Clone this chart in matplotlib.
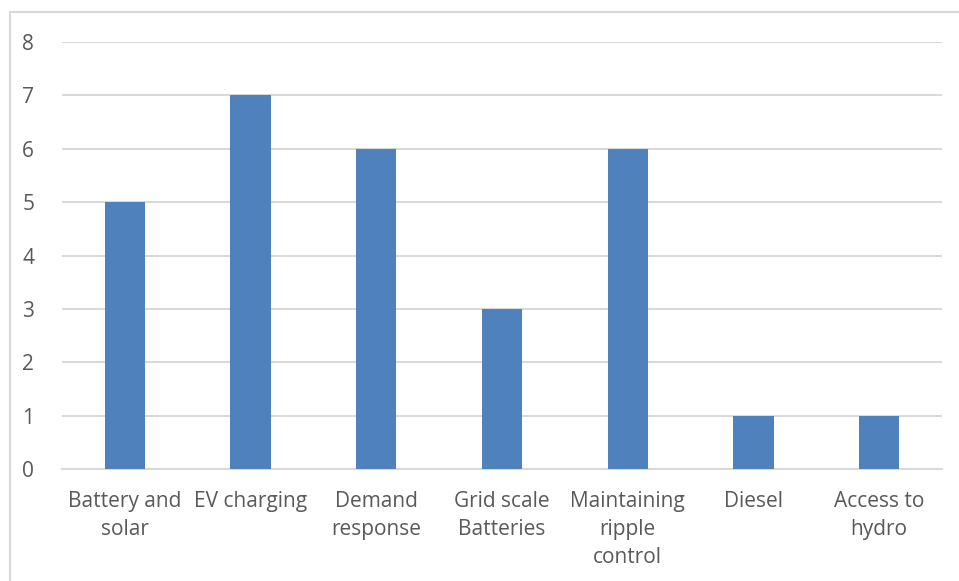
import matplotlib.pyplot as plt
from matplotlib.lines import Line2D

categories = ['Battery and\nsolar', 'EV charging', 'Demand\nresponse', 'Grid scale\nBatteries',
              'Maintaining\nripple\ncontrol', 'Diesel', 'Access to\nhydro']
counts = [5, 7, 6, 3, 6, 1, 1]
y_ticks = [0, 1, 2, 3, 4, 5, 6, 7, 8]

plt.rcParams['font.family'] = ['Open Sans', 'DejaVu Sans']

fig = plt.figure(figsize=(9.59, 5.81), dpi=100)
ax = fig.add_axes([62 / 959, 1 - 469 / 581, 880 / 959, 427 / 581])

x = range(len(categories))
ax.bar(x, counts, width=0.32, color='#4F81BD', zorder=3)

ax.set_xlim(-0.5, len(categories) - 0.5)
ax.set_ylim(0, 8)
ax.set_yticks(y_ticks)
ax.set_xticks(list(x))
ax.set_xticklabels(categories, linespacing=1.42, va='top')
ax.yaxis.grid(True, color='#D9D9D9', linewidth=1.5, zorder=0)

for side in ['top', 'right', 'left']:
    ax.spines[side].set_visible(False)
ax.spines['bottom'].set_color('#D9D9D9')
ax.spines['bottom'].set_linewidth(1.5)
ax.tick_params(axis='both', length=0, labelsize=15, colors='#595959')
ax.tick_params(axis='y', pad=20)
ax.tick_params(axis='x', pad=16)

# chart border (top and left edges)
fig.add_artist(Line2D([10 / 959, 10 / 959], [0, 1 - 12 / 581], transform=fig.transFigure,
                      color='#D9D9D9', linewidth=1.5))
fig.add_artist(Line2D([10 / 959, 1], [1 - 12 / 581, 1 - 12 / 581], transform=fig.transFigure,
                      color='#D9D9D9', linewidth=1.5))

fig.savefig('out.png', dpi=100)
